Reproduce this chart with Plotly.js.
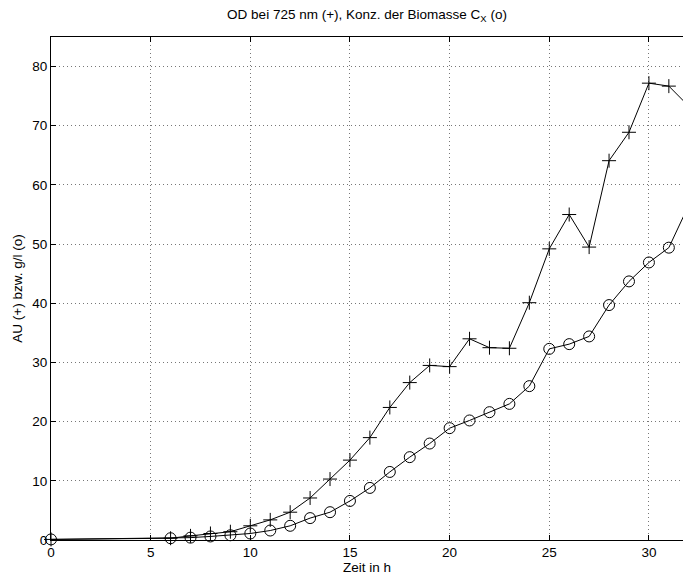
<!DOCTYPE html>
<html>
<head>
<meta charset="utf-8">
<script src="https://cdn.plot.ly/plotly-3.0.1.min.js"></script>
<style>html,body{margin:0;padding:0;background:#fff;}#chart{width:683px;height:578px;}</style>
</head>
<body>
<div id="chart"></div>
<script>
// time in hours
const zeit = [0, 6, 7, 8, 9, 10, 11, 12, 13, 14, 15, 16, 17, 18, 19, 20, 21, 22, 23, 24, 25, 26, 27, 28, 29, 30, 31, 32];
// OD at 725 nm (+)
const od725 = [0.1, 0.3, 0.7, 1.1, 1.4, 2.4, 3.4, 4.7, 7.1, 10.3, 13.5, 17.3, 22.4, 26.6, 29.5, 29.3, 34.0, 32.5, 32.4, 40.1, 49.2, 55.0, 49.5, 64.1, 68.9, 77.2, 76.7, 73.3];
// biomass concentration C_X (o)
const biomasse = [0.1, 0.3, 0.4, 0.6, 0.8, 1.1, 1.6, 2.4, 3.7, 4.7, 6.6, 8.8, 11.5, 14.0, 16.3, 18.9, 20.2, 21.6, 23.0, 26.0, 32.3, 33.1, 34.4, 39.7, 43.7, 46.9, 49.4, 56.6];

const xTicks = [0, 5, 10, 15, 20, 25, 30];
const yTicks = [0, 10, 20, 30, 40, 50, 60, 70, 80];

const font = {family: 'Liberation Sans, Arial, sans-serif', size: 13.5, color: '#000'};

const traces = [
  {
    x: zeit, y: od725, type: 'scatter', mode: 'lines+markers',
    line: {color: '#000', width: 1},
    marker: {symbol: 'cross-thin-open', size: 10, color: '#000', line: {color: '#000', width: 1}},
    cliponaxis: false, showlegend: false
  },
  {
    x: zeit, y: biomasse, type: 'scatter', mode: 'lines+markers',
    line: {color: '#000', width: 1},
    marker: {symbol: 'circle-open', size: 11, color: '#000', line: {color: '#000', width: 1}},
    cliponaxis: false, showlegend: false
  }
];

const layout = {
  width: 683, height: 578,
  margin: {l: 51, r: 0, t: 37, b: 38, pad: 0},
  paper_bgcolor: '#fff', plot_bgcolor: '#fff',
  font: font,
  title: {
    text: 'OD bei 725 nm (+), Konz. der Biomasse C<sub>X</sub> (o)',
    font: {family: font.family, size: 13.5, color: '#000'},
    x: 0.5, xanchor: 'center', y: 0.975, yanchor: 'middle', xref: 'paper'
  },
  xaxis: {
    range: [0, 31.71], tickvals: xTicks, ticktext: xTicks.map(String),
    showline: true, linecolor: '#000', linewidth: 1, mirror: 'ticks',
    ticks: 'inside', ticklen: 5, tickcolor: '#000', tickwidth: 1,
    showgrid: true, gridcolor: '#777', gridwidth: 1, griddash: '1px,3px',
    zeroline: false, tickfont: font,
    title: {text: 'Zeit in h', font: font, standoff: 0}
  },
  yaxis: {
    range: [0, 85], tickvals: yTicks, ticktext: yTicks.map(String),
    showline: true, linecolor: '#000', linewidth: 1, mirror: false,
    ticks: 'inside', ticklen: 5, tickcolor: '#000', tickwidth: 1,
    showgrid: true, gridcolor: '#777', gridwidth: 1, griddash: '1px,3px',
    zeroline: false, tickfont: font,
    title: {text: 'AU (+) bzw. g/l (o)', font: font, standoff: 6}
  }
};

Plotly.newPlot('chart', traces, layout, {displayModeBar: false, staticPlot: true});
</script>
</body>
</html>
